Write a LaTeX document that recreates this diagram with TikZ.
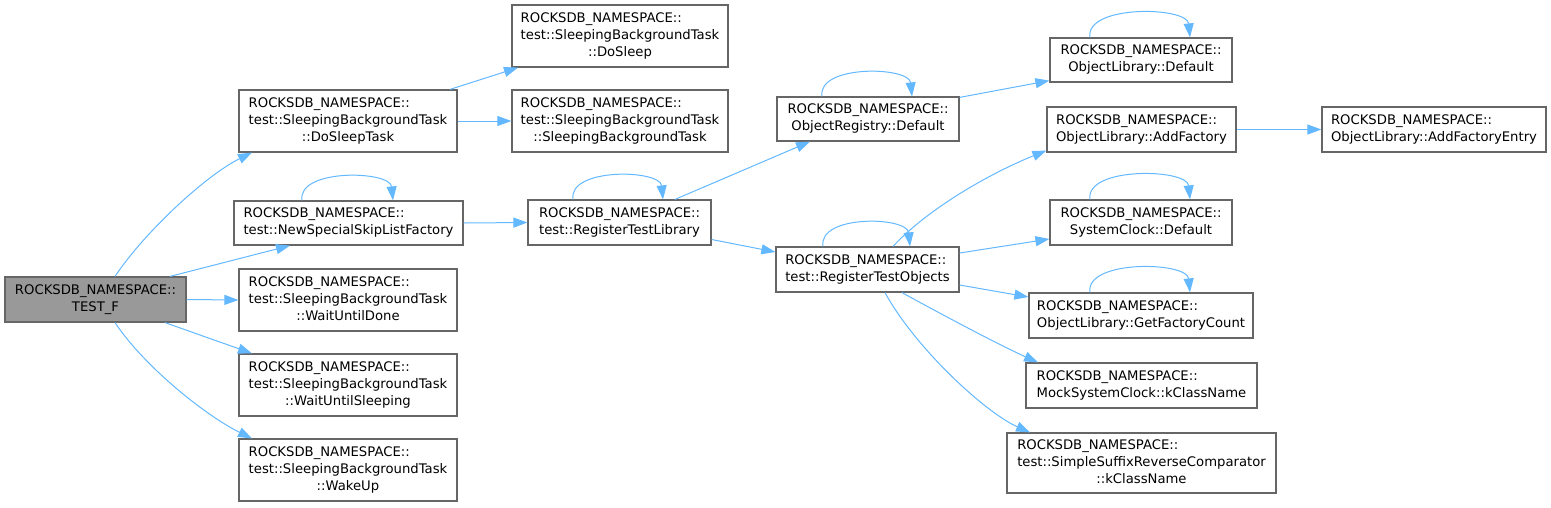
\documentclass[tikz,border=0pt]{standalone}
\usepackage{fontspec}
\setmainfont{DejaVu Sans}
\usetikzlibrary{arrows.meta}
\definecolor{edgeblue}{HTML}{63B8FF}
\definecolor{boxborder}{HTML}{666666}
\definecolor{rootfill}{HTML}{999999}
\newcommand{\twol}[2]{\begin{tabular}{@{}l@{}}#1\\\multicolumn{1}{@{}c@{}}{#2}\end{tabular}}
\newcommand{\threel}[3]{\begin{tabular}{@{}l@{}}#1\\#2\\\multicolumn{1}{@{}c@{}}{#3}\end{tabular}}
\newcommand{\RN}{ROCKSDB\_NAMESPACE::}
\begin{document}
\begin{tikzpicture}[x=1pt,y=-1pt,
  fn/.style={draw=boxborder, line width=1.2pt, fill=white, rectangle, inner sep=0pt,
     font=\fontsize{13.2}{17}\selectfont, text=black},
  root/.style={fn, fill=rootfill},
  e/.style={draw=edgeblue, line width=1pt, -{Triangle[length=14pt,width=10pt]}}
]
\useasboundingbox (0,0) rectangle (1551,507);
% nodes
\node[root, minimum width=181pt, minimum height=45pt] (tf) at (95.5,299.5) {\twol{\RN}{TEST\_F}};
\node[fn, minimum width=218pt, minimum height=62pt] (dst) at (348,121) {\threel{\RN}{test::SleepingBackgroundTask}{::DoSleepTask}};
\node[fn, minimum width=229pt, minimum height=44pt] (nsf) at (348.5,223) {\twol{\RN}{test::NewSpecialSkipListFactory}};
\node[fn, minimum width=218pt, minimum height=62pt] (wud) at (348,300) {\threel{\RN}{test::SleepingBackgroundTask}{::WaitUntilDone}};
\node[fn, minimum width=218pt, minimum height=62pt] (wus) at (348,385) {\threel{\RN}{test::SleepingBackgroundTask}{::WaitUntilSleeping}};
\node[fn, minimum width=218pt, minimum height=62pt] (wu) at (348,470) {\threel{\RN}{test::SleepingBackgroundTask}{::WakeUp}};
\node[fn, minimum width=216pt, minimum height=62pt] (ds) at (620,36) {\threel{\RN}{test::SleepingBackgroundTask}{::DoSleep}};
\node[fn, minimum width=216pt, minimum height=62pt] (sbt) at (620,121) {\threel{\RN}{test::SleepingBackgroundTask}{::SleepingBackgroundTask}};
\node[fn, minimum width=183pt, minimum height=45pt] (rtl) at (619.5,222.5) {\twol{\RN}{test::RegisterTestLibrary}};
\node[fn, minimum width=182pt, minimum height=44pt] (ord) at (868,119) {\twol{\RN}{ObjectRegistry::Default}};
\node[fn, minimum width=183pt, minimum height=45pt] (rto) at (867.5,269.5) {\twol{\RN}{test::RegisterTestObjects}};
\node[fn, minimum width=182pt, minimum height=44pt] (old) at (1141,60) {\twol{\RN}{ObjectLibrary::Default}};
\node[fn, minimum width=189pt, minimum height=45pt] (oaf) at (1141.5,129.5) {\twol{\RN}{ObjectLibrary::AddFactory}};
\node[fn, minimum width=182pt, minimum height=45pt] (scd) at (1141,222.5) {\twol{\RN}{SystemClock::Default}};
\node[fn, minimum width=224pt, minimum height=45pt] (gfc) at (1141,315.5) {\twol{\RN}{ObjectLibrary::GetFactoryCount}};
\node[fn, minimum width=231pt, minimum height=45pt] (msc) at (1141.5,385.5) {\twol{\RN}{MockSystemClock::kClassName}};
\node[fn, minimum width=269pt, minimum height=60pt] (ssr) at (1141.5,463) {\threel{\RN}{test::SimpleSuffixReverseComparator}{::kClassName}};
\node[fn, minimum width=224pt, minimum height=45pt] (afe) at (1434,129.5) {\twol{\RN}{ObjectLibrary::AddFactoryEntry}};
% edges from TEST_F
\draw[e] ([xshift=19.5pt]tf.north) .. controls +(30,-45) and +(-45,22) .. ([xshift=-96pt]dst.south);
\draw[e] ([xshift=74.5pt]tf.north) -- ([xshift=-58.5pt]nsf.south);
\draw[e] (tf.east) -- (wud.west);
\draw[e] ([xshift=69.5pt]tf.south) -- ([xshift=-96pt]wus.north);
\draw[e] ([xshift=19.5pt]tf.south) .. controls +(30,45) and +(-45,-22) .. ([xshift=-96pt]wu.north);
% DoSleepTask
\draw[e] ([xshift=102pt]dst.north) -- ([xshift=-102pt]ds.south);
\draw[e] (dst.east) -- (sbt.west);
% NewSpecialSkipListFactory
\draw[e] ([xshift=-46.5pt]nsf.north) .. controls +(-5,-32) and +(-3,-30) .. ([xshift=44.5pt]nsf.north);
\draw[e] (nsf.east) -- (rtl.west);
% RegisterTestLibrary
\draw[e] ([xshift=-46.5pt]rtl.north) .. controls +(-5,-32) and +(-3,-30) .. ([xshift=43.5pt]rtl.north);
\draw[e] ([xshift=55.5pt]rtl.north) -- ([xshift=-58pt]ord.south);
\draw[e] ([yshift=-17pt]rtl.east) -- ([yshift=17.5pt]rto.west);
% ObjectRegistry::Default
\draw[e] ([xshift=-46pt]ord.north) .. controls +(-5,-32) and +(-3,-30) .. ([xshift=44pt]ord.north);
\draw[e] ([yshift=-1pt]ord.north east) -- ([yshift=2pt]old.south west);
% ObjectLibrary::Default
\draw[e] ([xshift=-51pt]old.north) .. controls +(-5,-33) and +(-3,-31) .. ([xshift=49pt]old.north);
% RegisterTestObjects
\draw[e] ([xshift=-44.5pt]rto.north) .. controls +(-5,-32) and +(-3,-30) .. ([xshift=42.5pt]rto.north);
\draw[e] ([xshift=25.5pt]rto.north) .. controls +(35,-38) and +(-55,22) .. ([yshift=2pt]oaf.south west);
\draw[e] ([yshift=16.5pt]rto.east) -- ([yshift=-16.5pt]scd.west);
\draw[e] ([yshift=-15.5pt]rto.east) -- ([yshift=18.5pt]gfc.west);
\draw[e] ([xshift=34.5pt]rto.south) .. controls +(40,22) and +(-40,-18) .. ([xshift=-103.5pt]msc.north);
\draw[e] ([xshift=17.5pt]rto.south) .. controls +(30,55) and +(-45,-20) .. ([xshift=-111.5pt]ssr.north);
% AddFactory
\draw[e] (oaf.east) -- (afe.west);
% self loops
\draw[e] ([xshift=-51pt]scd.north) .. controls +(-5,-33) and +(-3,-31) .. ([xshift=49pt]scd.north);
\draw[e] ([xshift=-51pt]gfc.north) .. controls +(-5,-33) and +(-3,-31) .. ([xshift=49pt]gfc.north);
\end{tikzpicture}
\end{document}
